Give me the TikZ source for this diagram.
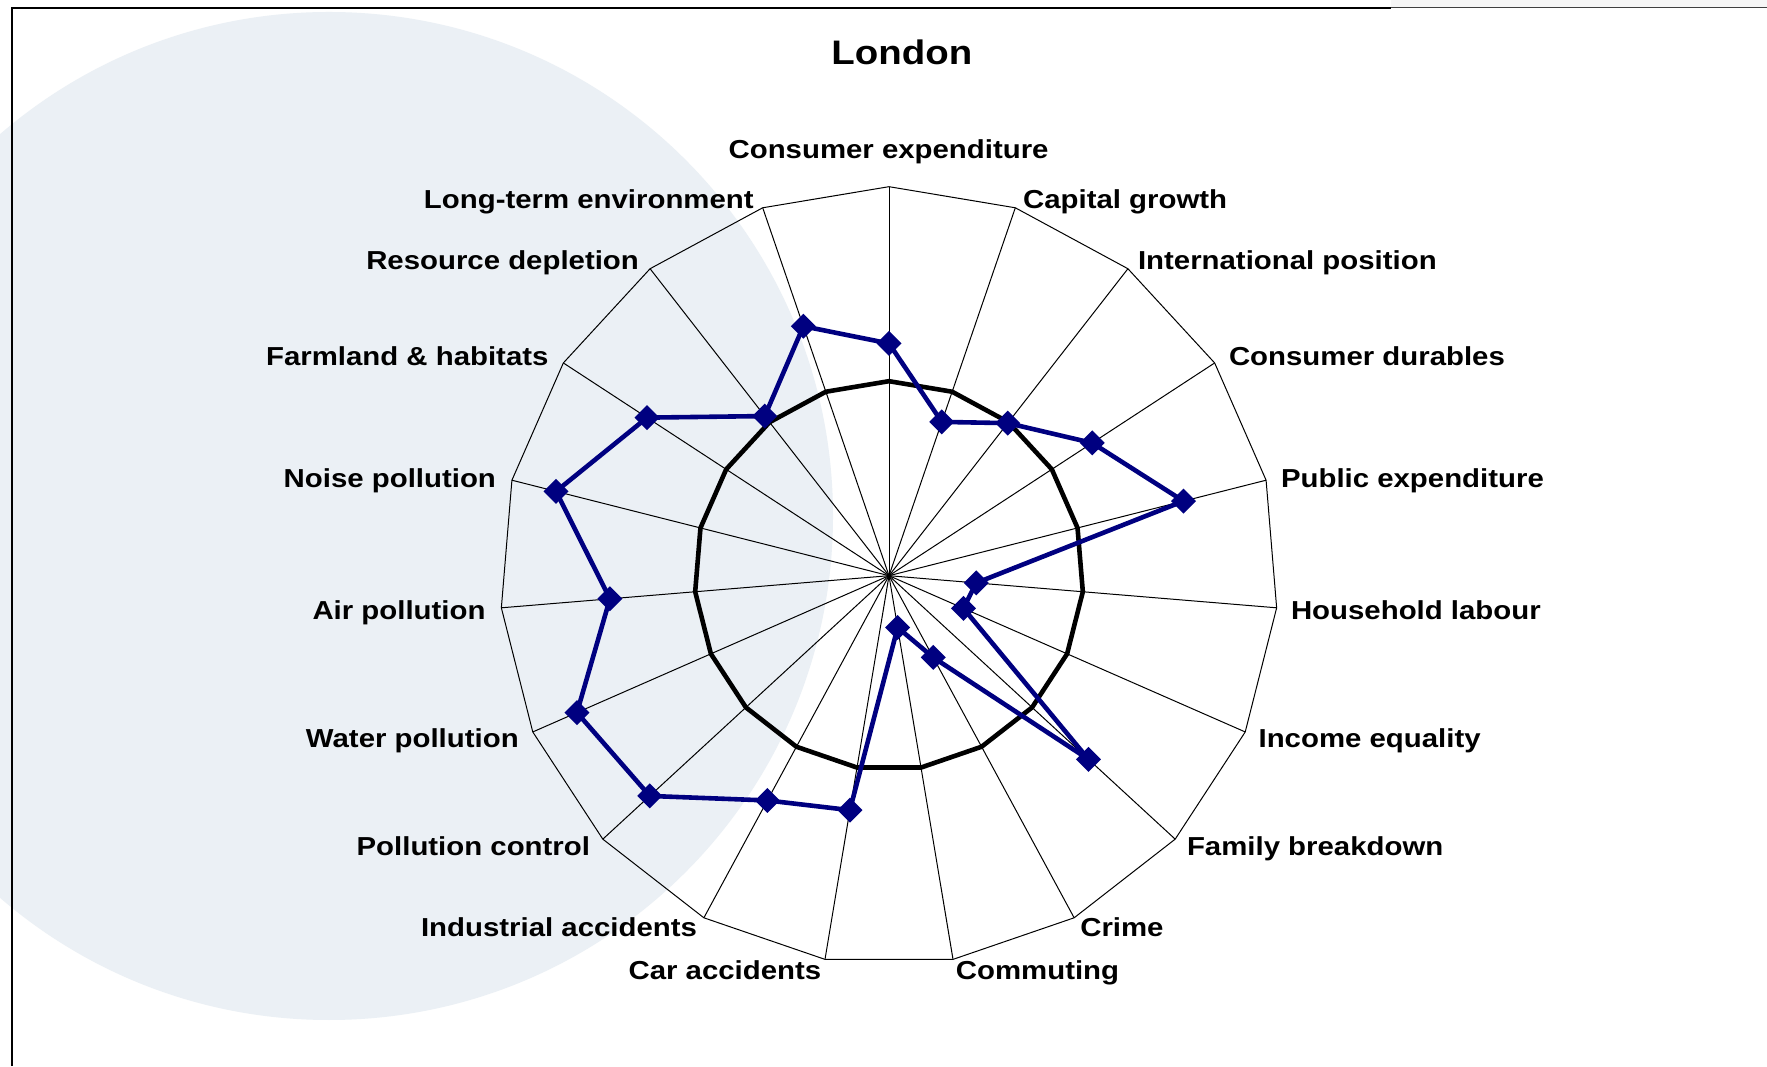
\documentclass[tikz,border=0pt]{standalone}
\usepackage{fontspec}
\setmainfont{Liberation Sans}[FakeStretch=1.13]
\usetikzlibrary{shapes.geometric}

\newcommand\chartR{389}
\tikzset{
  spoke/.style={draw=drawColor,line width=0.5pt,line join=round},
  refring/.style={draw=drawColor,line width=2.3pt,line join=round},
  dataline/.style={draw=dataColor,line width=2.3pt,line join=round},
  datamark/.style={diamond,fill=dataColor,inner sep=0pt,outer sep=0pt,
    minimum width=12.5pt,minimum height=12.5pt},
  axislabel/.style={text=drawColor,inner sep=0pt,outer sep=0pt,
    font=\bfseries\fontsize{13}{15}\selectfont},
}

\begin{document}
\begin{tikzpicture}[x=0.5pt,y=0.5pt]
\definecolor{fillColor}{RGB}{255,255,255}
\path[use as bounding box,fill=fillColor] (0,0) rectangle (1767,1066);
\begin{scope}
\path[clip] (0,0) rectangle (1767,1066);
\definecolor{fillColor}{RGB}{235,240,245}

\path[fill=fillColor] (329,550) circle (504);
\definecolor{fillColor}{RGB}{246,246,246}

\path[fill=fillColor] (1391,1058.3) rectangle (1767,1066);
\definecolor{drawColor}{RGB}{0,0,0}

\path[draw=drawColor,line width=1pt] (12.3,0) -- (12.3,1058.3) -- (1391,1058.3);
\definecolor{drawColor}{gray}{0.25}

\path[draw=drawColor,line width=0.5pt] (1391,1058.3) -- (1767,1058.3);
\end{scope}
\begin{scope}[shift={(889,490.3)}]
\definecolor{drawColor}{RGB}{0,0,0}
\definecolor{dataColor}{RGB}{0,0,128}
\coordinate (O) at (0,0);
\foreach \k in {0,...,18} {
  \coordinate (s\k) at ({90-\k*360/19}:\chartR);
  \coordinate (r\k) at ({90-\k*360/19}:{0.5*\chartR});
}

\foreach \k in {0,...,18} \path[spoke] (O) -- (s\k);

\path[spoke] (s0) \foreach \k in {1,...,18} {-- (s\k)} -- cycle;

\path[refring] (r0) \foreach \k in {1,...,18} {-- (r\k)} -- cycle;

\foreach \k/\v in {0/0.597,1/0.418,2/0.497,3/0.624,4/0.781,5/0.225,6/0.209,
  7/0.697,8/0.239,9/0.135,10/0.611,11/0.657,12/0.836,13/0.876,14/0.720,
  15/0.883,16/0.743,17/0.520,18/0.678}
  \coordinate (d\k) at ({90-\k*360/19}:{\v*\chartR});

\path[dataline] (d0) \foreach \k in {1,...,18} {-- (d\k)} -- cycle;

\foreach \k in {0,...,18} \node[datamark] (m\k) at (d\k) {};
\end{scope}
\begin{scope}
\definecolor{drawColor}{RGB}{0,0,0}

\node[text=drawColor,anchor=base,inner sep=0pt,outer sep=0pt,
  font=\bfseries\fontsize{17}{20}\selectfont] (title) at (901.8,1001.7) {London};

\node[axislabel,anchor=base] (consexp) at (888.6,907.7) {Consumer expenditure};

\node[axislabel,anchor=base west] (capgrowth) at (1023.1,857) {Capital growth};

\node[axislabel,anchor=base west] (intpos) at (1138,796) {International position};

\node[axislabel,anchor=base west] (consdur) at (1229,700) {Consumer durables};

\node[axislabel,anchor=base west] (pubexp) at (1281,578) {Public expenditure};

\node[axislabel,anchor=base west] (houselab) at (1291,446) {Household labour};

\node[axislabel,anchor=base west] (incequal) at (1258.6,318) {Income equality};

\node[axislabel,anchor=base west] (family) at (1187,210) {Family breakdown};

\node[axislabel,anchor=base west] (crime) at (1080.3,129.3) {Crime};

\node[axislabel,anchor=base west] (commute) at (955.9,86.7) {Commuting};

\node[axislabel,anchor=base east] (caracc) at (821.3,86.7) {Car accidents};

\node[axislabel,anchor=base east] (indacc) at (697,129.3) {Industrial accidents};

\node[axislabel,anchor=base east] (pollctrl) at (590,210) {Pollution control};

\node[axislabel,anchor=base east] (waterpoll) at (518.7,318) {Water pollution};

\node[axislabel,anchor=base east] (airpoll) at (485.5,446) {Air pollution};

\node[axislabel,anchor=base east] (noisepoll) at (495.9,578) {Noise pollution};

\node[axislabel,anchor=base east] (farmland) at (548.5,700) {Farmland \& habitats};

\node[axislabel,anchor=base east] (resdep) at (638.9,796) {Resource depletion};

\node[axislabel,anchor=base east] (longterm) at (753.7,857) {Long-term environment};
\end{scope}
\end{tikzpicture}
\end{document}
